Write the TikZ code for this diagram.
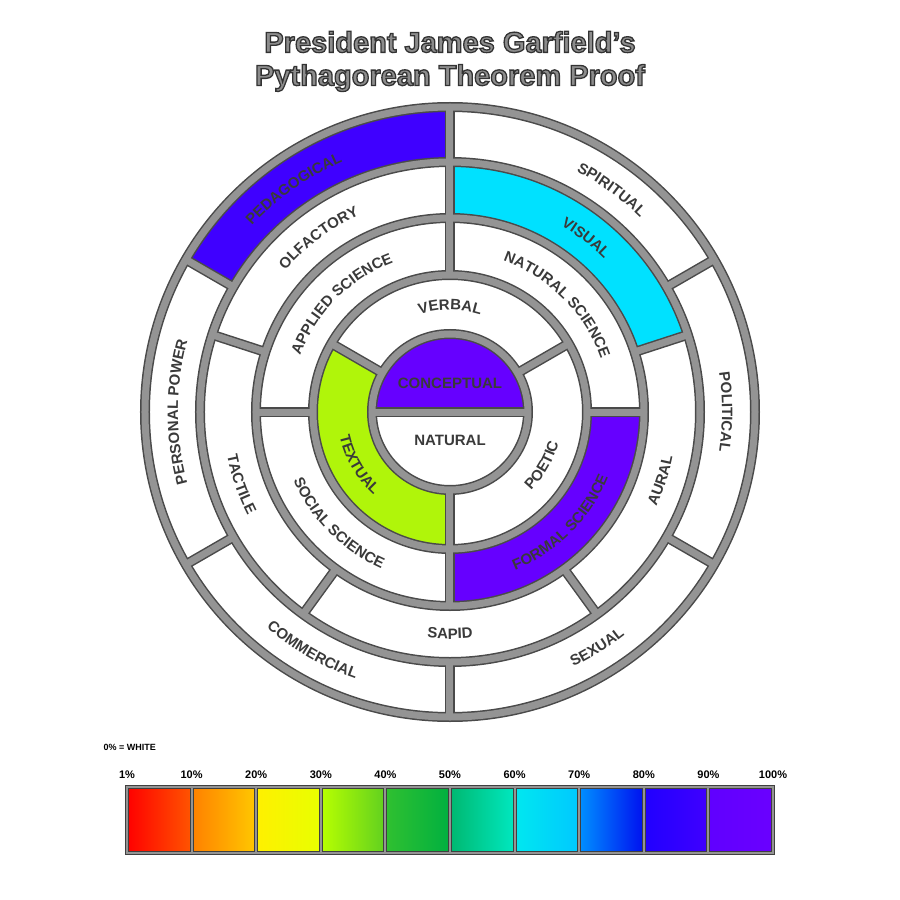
\documentclass[tikz,border=0pt]{standalone}
\usepackage{fontspec}
\setmainfont{Liberation Sans}
\usetikzlibrary{decorations.text}
\definecolor{ringdark}{HTML}{4A4A4A}
\definecolor{ringlight}{HTML}{949494}
\definecolor{txt}{HTML}{3A3A3A}
\definecolor{cPed}{HTML}{3F00FF}
\definecolor{cVis}{HTML}{00E1FF}
\definecolor{cPur}{HTML}{6600FF}
\definecolor{cTex}{HTML}{B0F50A}
\newcommand{\lbl}{\fontsize{15}{15}\selectfont\bfseries\color{txt}}
\newcommand{\outl}[1]{\special{pdf:literal direct 2 Tr 1.3 w 0.2 G}#1\special{pdf:literal direct 0 Tr}}
\newcommand{\cwlabel}[3]{\path[decorate,decoration={text along path,text align=center,text={|\lbl|#3}}] ({#1+70}:#2) arc[start angle={#1+70},end angle={#1-70},radius=#2];}
\newcommand{\ccwlabel}[3]{\path[decorate,decoration={text along path,text align=center,text={|\lbl|#3}}] ({#1-70}:#2) arc[start angle={#1-70},end angle={#1+70},radius=#2];}
\newcommand{\sect}[5]{\fill[#5] (#3:#1) arc[start angle=#3,end angle=#4,radius=#1] -- (#4:#2) arc[start angle=#4,end angle=#3,radius=#2] -- cycle;}
\newcommand{\gridlines}[1]{%
  \foreach \r in {78,137,194,250,305} \draw[#1] (0,0) circle (\r);
  \draw[#1] (-78,0) -- (78,0);
  \foreach \a in {30,150,270} \draw[#1] (\a:78) -- (\a:137);
  \foreach \a in {0,90,180,270} \draw[#1] (\a:137) -- (\a:194);
  \foreach \a in {18,90,162,234,306} \draw[#1] (\a:194) -- (\a:250);
  \foreach \a in {30,90,150,210,270,330} \draw[#1] (\a:250) -- (\a:305);
}
\begin{document}
\begin{tikzpicture}[x=1pt,y=1pt,
  dark/.style={line width=10,ringdark},
  light/.style={line width=7,ringlight},
  ttl/.style={font=\fontsize{29}{29}\selectfont\bfseries},
  pct/.style={font=\fontsize{9}{9}\selectfont\bfseries,text=black}]
\useasboundingbox[fill=white] (-450,-488) rectangle (450,412);
% title
\node[ttl,text=black!45] (t1) at (0,370) {\outl{President James Garfield’s}};
\node[ttl,text=black!45] (t2) at (0,334) {\outl{Pythagorean Theorem Proof}};
% fills
\sect{0}{78}{0}{180}{cPur}
\sect{78}{137}{150}{270}{cTex}
\sect{137}{194}{270}{360}{cPur}
\sect{194}{250}{18}{90}{cVis}
\sect{250}{305}{90}{150}{cPed}
\gridlines{dark}
\gridlines{light}
% center labels
\node[font=\fontsize{15}{15}\selectfont\bfseries,text=txt] (conc) at (0,29) {CONCEPTUAL};
\node[font=\fontsize{15}{15}\selectfont\bfseries,text=txt] (nat) at (0,-28) {NATURAL};
% ring 2
\cwlabel{90}{102}{VERBAL}
\ccwlabel{210}{113}{TEXTUAL}
\ccwlabel{330}{113}{POETIC}
% ring 3
\cwlabel{135}{160}{APPLIED SCIENCE}
\cwlabel{45}{160}{NATURAL SCIENCE}
\ccwlabel{225}{171}{SOCIAL SCIENCE}
\ccwlabel{315}{171}{FORMAL SCIENCE}
% ring 4
\cwlabel{127}{217}{OLFACTORY}
\cwlabel{52}{217}{VISUAL}
\ccwlabel{342}{227}{AURAL}
\ccwlabel{270}{227}{SAPID}
\ccwlabel{199}{227}{TACTILE}
% ring 5
\cwlabel{125}{272}{PEDAGOGICAL}
\cwlabel{54}{272}{SPIRITUAL}
\cwlabel{0}{272}{POLITICAL}
\cwlabel{180}{272}{PERSONAL POWER}
\ccwlabel{240}{283}{COMMERCIAL}
\ccwlabel{302}{283}{SEXUAL}
% legend
\node[pct,anchor=west] (white) at (-350,-335) {0\% = WHITE};
\foreach \i/\l/\r in {0/FF0000/FF5500,1/FF8000/FFC800,2/FFF000/E8FF00,3/B8FF00/60D020,4/30C030/00B040,5/00B870/00E8C0,6/00E8F0/00C8FF,7/0090FF/0010F0,8/2000FF/4000FF,9/6000FF/6A00FF}{
  \definecolor{lc}{HTML}{\l}\definecolor{rc}{HTML}{\r}
  \shade[left color=lc,right color=rc] ({-323+64.6*\i},-375) rectangle ({-323+64.6*(\i+1)},-441);}
\draw[line width=4,black!75] (-323,-375) rectangle (323,-441);
\foreach \i in {1,...,9} \draw[line width=4,black!75] ({-323+64.6*\i},-375) -- ({-323+64.6*\i},-441);
\draw[line width=2,ringlight] (-323,-375) rectangle (323,-441);
\foreach \i in {1,...,9} \draw[line width=2,ringlight] ({-323+64.6*\i},-375) -- ({-323+64.6*\i},-441);
\foreach \i/\t in {0/1\%,1/10\%,2/20\%,3/30\%,4/40\%,5/50\%,6/60\%,7/70\%,8/80\%,9/90\%,10/100\%}
  \node[pct,font=\fontsize{11}{11}\selectfont\bfseries] at ({-323+64.6*\i},-363) {\t};
\end{tikzpicture}
\end{document}
